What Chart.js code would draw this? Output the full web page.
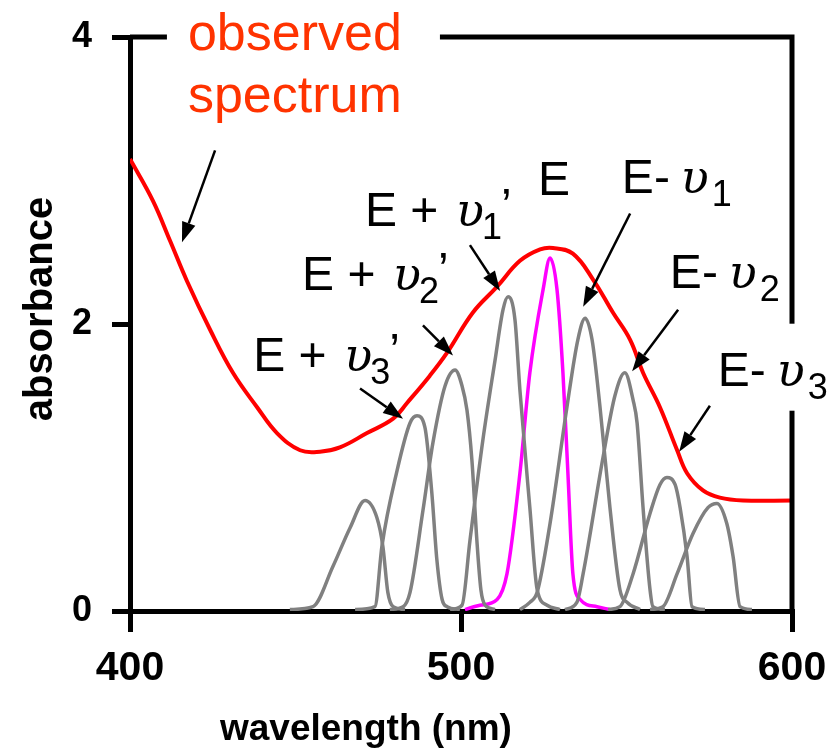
<!DOCTYPE html>
<html>
<head>
<meta charset="utf-8">
<script src="https://cdn.jsdelivr.net/npm/chart.js@4"></script>
<style>
  html, body { margin: 0; padding: 0; background: #fff; }
  canvas { display: block; }
</style>
</head>
<body>
<canvas id="spectrumChart" width="829" height="748"></canvas>
<script>
// axis ticks
const xTicks = [400, 500, 600];
const yTicks = [0, 2, 4];

// observed spectrum (red)
const observedNm  = [400.0, 406.9, 412.1, 417.2, 424.2, 431.1, 438.4, 444.4, 451.4, 457.4, 463.4, 471.6, 479.5, 483.7, 490.6, 495.8, 503.6, 510.9, 517.8, 523.9, 527.8, 533.8, 539.9, 545.9, 551.1, 555.0, 560.1, 565.3, 568.3, 573.1, 578.2, 585.2, 600.0];
const observedAbs = [3.15, 2.86, 2.58, 2.30, 1.96, 1.66, 1.42, 1.24, 1.12, 1.11, 1.14, 1.24, 1.34, 1.45, 1.64, 1.80, 2.08, 2.26, 2.44, 2.52, 2.53, 2.49, 2.31, 2.08, 1.89, 1.66, 1.42, 1.12, 0.96, 0.84, 0.79, 0.77, 0.77];

// E band (magenta)
const bandENm  = [501.2, 505.7, 510.9, 513.9, 517.8, 520.8, 524.8, 526.9, 529.0, 530.8, 532.3, 533.8, 536.0, 541.1, 545.0];
const bandEAbs = [0.01, 0.04, 0.08, 0.26, 0.96, 1.66, 2.24, 2.46, 2.24, 1.66, 0.96, 0.26, 0.08, 0.03, 0.01];

// vibronic bands (grey), left to right
const band1Nm  = [448.3, 455.3, 461.3, 466.5, 471.0, 474.6, 476.4, 477.9, 479.5, 483.1];
const band1Abs = [0.01, 0.03, 0.31, 0.58, 0.77, 0.65, 0.45, 0.13, 0.03, 0.01];
const band2Nm  = [468.0, 474.0, 476.1, 480.7, 484.6, 486.7, 489.1, 491.2, 492.7, 494.3, 495.8, 499.7];
const band2Abs = [0.01, 0.03, 0.45, 0.98, 1.31, 1.36, 1.28, 0.82, 0.36, 0.08, 0.03, 0.01];
const band3Nm  = [478.5, 482.5, 484.6, 488.5, 491.5, 495.2, 498.2, 500.3, 501.8, 503.3, 504.8, 506.0, 507.3, 510.3];
const band3Abs = [0.01, 0.03, 0.13, 0.70, 1.17, 1.57, 1.68, 1.57, 1.40, 1.05, 0.49, 0.15, 0.04, 0.01];
const band4Nm  = [496.7, 500.3, 502.7, 506.6, 510.3, 512.7, 514.2, 516.3, 517.8, 520.8, 523.0, 526.0, 529.9];
const band4Abs = [0.01, 0.04, 0.49, 1.19, 1.75, 2.10, 2.19, 2.03, 1.54, 0.72, 0.15, 0.04, 0.01];
const band5Nm  = [517.8, 520.8, 523.0, 526.9, 532.0, 535.3, 537.5, 539.6, 542.0, 545.0, 548.0, 550.2, 554.1];
const band5Abs = [0.01, 0.06, 0.13, 0.61, 1.42, 1.89, 2.04, 1.89, 1.42, 0.72, 0.15, 0.06, 0.01];
const band6Nm  = [531.4, 535.0, 536.9, 542.9, 546.5, 549.5, 552.0, 553.2, 555.0, 557.1, 558.0, 561.6];
const band6Abs = [0.01, 0.06, 0.26, 1.07, 1.50, 1.66, 1.47, 1.31, 0.72, 0.15, 0.03, 0.01];
const band7Nm  = [544.4, 548.0, 552.0, 557.1, 560.1, 562.2, 564.7, 566.2, 568.3, 569.8, 573.7];
const band7Abs = [0.01, 0.03, 0.26, 0.68, 0.88, 0.93, 0.88, 0.72, 0.38, 0.03, 0.01];
const band8Nm  = [557.1, 561.0, 565.3, 570.1, 574.6, 577.3, 580.3, 582.2, 584.3, 587.9];
const band8Abs = [0.01, 0.03, 0.26, 0.54, 0.72, 0.75, 0.61, 0.38, 0.03, 0.01];

const grayBands = [
    [band1Nm, band1Abs], [band2Nm, band2Abs], [band3Nm, band3Abs], [band4Nm, band4Abs],
    [band5Nm, band5Abs], [band6Nm, band6Abs], [band7Nm, band7Abs], [band8Nm, band8Abs]
];

const sans = "'Liberation Sans', Arial, sans-serif";
const labelFont = `48px ${sans}`;
const subFont = `36px ${sans}`;
const greekFont = "italic 46px 'DejaVu Serif', 'Liberation Serif', serif";

const plusRuns = n => [
    { t: 'E + ', f: labelFont, dx: 0, dy: 0 },
    { t: 'υ', f: greekFont, dx: 91, dy: 0 },
    { t: n, f: subFont, dx: 117, dy: 13 },
    { t: '’', f: labelFont, dx: 136, dy: -4 }
];
const minusRuns = n => [
    { t: 'E-', f: labelFont, dx: 0, dy: 0 },
    { t: 'υ', f: greekFont, dx: 59, dy: 0 },
    { t: n, f: subFont, dx: 90, dy: 13 }
];

// labels anchored at (nm, absorbance)
const labels = [
    { at: [417.5, 3.91], color: '#ff3300', box: [-21, -50, 252, 75], runs: [
        { t: 'observed', f: `52px ${sans}`, dx: 0, dy: 0 },
        { t: 'spectrum', f: `52px ${sans}`, dx: 0, dy: 62 }
    ] },
    { at: [471.0, 2.68], runs: plusRuns('1') },
    { at: [523.3, 2.90], runs: [{ t: 'E', f: labelFont, dx: 0, dy: 0 }] },
    { at: [452.0, 2.24], runs: plusRuns('2') },
    { at: [437.2, 1.67], runs: plusRuns('3') },
    { at: [548.6, 2.91], runs: minusRuns('1') },
    { at: [563.1, 2.25], runs: minusRuns('2') },
    { at: [577.6, 1.57], box: [-13, -62, 111, 25], runs: minusRuns('3') }
];

// arrows: [from nm, from abs, to nm, to abs]
const arrows = [
    [425.7, 3.21, 415.7, 2.57],
    [502.7, 2.55, 511.8, 2.23],
    [551.1, 2.77, 536.9, 2.12],
    [488.5, 1.99, 497.6, 1.78],
    [469.5, 1.55, 482.5, 1.34],
    [565.6, 2.10, 551.7, 1.67],
    [575.2, 1.43, 565.9, 1.11]
];

function series(nm, abs) {
    return nm.map((v, i) => ({ x: v, y: abs[i] }));
}

function drawArrow(ctx, x0, y0, x1, y1) {
    const ang = Math.atan2(y1 - y0, x1 - x0);
    const head = 20, half = 7;
    const bx = x1 - head * Math.cos(ang), by = y1 - head * Math.sin(ang);
    ctx.beginPath();
    ctx.moveTo(x0, y0);
    ctx.lineTo(bx, by);
    ctx.stroke();
    ctx.beginPath();
    ctx.moveTo(x1, y1);
    ctx.lineTo(bx + half * Math.sin(ang), by - half * Math.cos(ang));
    ctx.lineTo(bx - half * Math.sin(ang), by + half * Math.cos(ang));
    ctx.closePath();
    ctx.fill();
}

// keep the plot box fixed: no extra room for overhanging tick labels
function fixPadding(s) {
    s.paddingLeft = 0;
    s.paddingRight = 0;
    s.paddingTop = 0;
    s.paddingBottom = 0;
}

const annotations = {
    id: 'annotations',
    afterDraw(chart) {
        const { ctx, chartArea: a, scales: { x, y } } = chart;
        ctx.save();

        // top and right frame
        ctx.strokeStyle = '#000';
        ctx.lineWidth = 5;
        ctx.beginPath();
        ctx.moveTo(a.left, a.top);
        ctx.lineTo(a.right, a.top);
        ctx.lineTo(a.right, a.bottom);
        ctx.stroke();

        // labels (white box cuts the frame where needed)
        ctx.textBaseline = 'alphabetic';
        ctx.textAlign = 'left';
        labels.forEach(l => {
            const px = x.getPixelForValue(l.at[0]);
            const py = y.getPixelForValue(l.at[1]);
            if (l.box) {
                ctx.fillStyle = '#fff';
                ctx.fillRect(px + l.box[0], py + l.box[1], l.box[2] - l.box[0], l.box[3] - l.box[1]);
            }
            ctx.fillStyle = l.color || '#000';
            l.runs.forEach(r => {
                ctx.font = r.f;
                ctx.fillText(r.t, px + r.dx, py + r.dy);
            });
        });

        // arrows
        ctx.strokeStyle = '#000';
        ctx.fillStyle = '#000';
        ctx.lineWidth = 2.5;
        arrows.forEach(ar => {
            drawArrow(ctx,
                x.getPixelForValue(ar[0]), y.getPixelForValue(ar[1]),
                x.getPixelForValue(ar[2]), y.getPixelForValue(ar[3]));
        });

        // axis titles
        ctx.fillStyle = '#000';
        ctx.font = `bold 37px ${sans}`;
        ctx.textAlign = 'left';
        ctx.fillText('wavelength (nm)', a.left + 90, a.bottom + 129);
        ctx.translate(a.left - 78, a.top + 272);
        ctx.rotate(-Math.PI / 2);
        ctx.textAlign = 'center';
        ctx.font = `bold 40px ${sans}`;
        ctx.fillText('absorbance', 0, 0);

        ctx.restore();
    }
};

const datasets = grayBands.map(([nm, abs]) => ({
    data: series(nm, abs),
    borderColor: '#808080',
    borderWidth: 3.5
}));
datasets.push({ data: series(bandENm, bandEAbs), borderColor: '#ff00ff', borderWidth: 3.5 });
datasets.push({
    data: series(observedNm, observedAbs),
    borderColor: '#ff0000',
    borderWidth: 4,
    cubicInterpolationMode: 'default',
    tension: 0.4
});

new Chart(document.getElementById('spectrumChart'), {
    type: 'line',
    data: { datasets },
    options: {
        responsive: false,
        animation: false,
        devicePixelRatio: 1,
        layout: { padding: { top: 37, right: 37, left: 0, bottom: 0 } },
        elements: {
            point: { radius: 0 },
            line: { cubicInterpolationMode: 'monotone', fill: false }
        },
        plugins: { legend: { display: false }, tooltip: { enabled: false } },
        scales: {
            x: {
                type: 'linear',
                min: 400,
                max: 600,
                afterBuildTicks: s => { s.ticks = xTicks.map(v => ({ value: v })); },
                afterFit: s => { s.height = 137; fixPadding(s); },
                ticks: { color: '#000', padding: 12, font: { family: sans, size: 41, weight: 'bold' } },
                grid: { drawOnChartArea: false, tickLength: 21, lineWidth: 5, tickWidth: 5, tickColor: '#000' },
                border: { color: '#000', width: 5 }
            },
            y: {
                min: 0,
                max: 4,
                afterBuildTicks: s => { s.ticks = yTicks.map(v => ({ value: v })); },
                afterFit: s => { s.width = 130; fixPadding(s); },
                ticks: { color: '#000', padding: 20, font: { family: sans, size: 36, weight: 'bold' } },
                grid: { drawOnChartArea: false, tickLength: 18, lineWidth: 5, tickWidth: 5, tickColor: '#000' },
                border: { color: '#000', width: 5 }
            }
        }
    },
    plugins: [annotations]
});
</script>
</body>
</html>
